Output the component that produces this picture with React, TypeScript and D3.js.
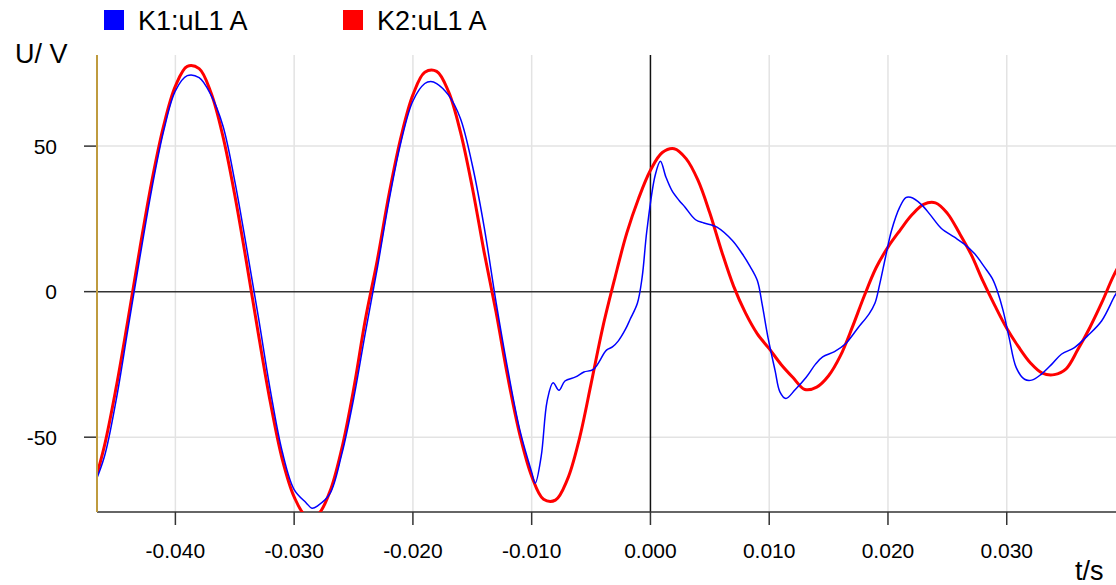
import React from "react";
import * as d3 from "d3";

// K2 (red) sampled every 1 ms from -0.047 s
const RED_T0 = -0.047;
const RED_DT = 0.001;
const redVolt = [
  -68.3, -53.4, -33.2, -9.8, 14.6, 37.6, 56.8, 70.6, 77.4, 76.6,
  68.3, 53.4, 33.2, 9.8, -14.8, -38.1, -57.6, -70.5, -77.0, -76.5,
  -68.8, -54.1, -33.7, -9.5, 10.8, 33.7, 53.2, 67.6, 75.4, 75.7,
  68.7, 54.9, 35.8, 13.5, -7.0, -29.6, -49.1, -63.4, -71.3, -71.6,
  -64.6, -50.8, -31.7, -12.0, 4.6, 20.0, 32.0, 41.7, 47.8, 49.1,
  45.7, 38.3, 27.0, 13.8, 1.9, -7.3, -14.5, -19.6, -25.0, -29.5,
  -33.6, -32.8, -28.9, -22.0, -12.2, -1.5, 8.2, 15.3, 21.0, 26.3,
  30.0, 30.5, 26.9, 20.2, 12.8, 3.6, -4.8, -12.6, -19.0, -24.5,
  -28.0, -28.5, -26.5, -19.8, -12.3, -3.8, 5.5, 13.0,
];

// K1 (blue), uneven samples
const blueTime = [
  -0.047, -0.046, -0.045, -0.044, -0.043, -0.042, -0.041, -0.04, -0.039, -0.038,
  -0.037, -0.036, -0.035, -0.034, -0.033, -0.032, -0.031, -0.03, -0.029, -0.0285,
  -0.028, -0.027, -0.026, -0.025, -0.024, -0.023, -0.022, -0.021, -0.02, -0.019,
  -0.0185, -0.018, -0.017, -0.016, -0.015, -0.014, -0.013, -0.012, -0.011, -0.01,
  -0.0097, -0.0092, -0.0087, -0.0082, -0.0077, -0.0072, -0.0063, -0.0056, -0.0048, -0.0037,
  -0.0032, -0.0027, -0.0021, -0.0017, -0.0011, -0.0007, -0.0003, 0.0004, 0.00084, 0.0013,
  0.0018, 0.0024, 0.0029, 0.0038, 0.0045, 0.0052, 0.0056, 0.0069, 0.0077, 0.0084,
  0.009, 0.0094, 0.0099, 0.0105, 0.0109, 0.0114, 0.0122, 0.0131, 0.0139, 0.0145,
  0.0155, 0.0164, 0.0175, 0.0184, 0.0189, 0.0193, 0.0198, 0.0203, 0.021, 0.0215,
  0.0219, 0.0228, 0.0236, 0.0245, 0.0256, 0.0264, 0.0273, 0.0281, 0.0288, 0.0292,
  0.0297, 0.0302, 0.0308, 0.0315, 0.0321, 0.0329, 0.0338, 0.0346, 0.0357, 0.0368,
  0.038, 0.0391, 0.0396,
];
const blueVolt = [
  -68, -57, -37.5, -13, 11.5, 35, 55, 69, 74.2, 73.5,
  67.5, 57, 38, 15, -9, -34, -55, -68, -72.5, -74.4,
  -73.5, -69.5, -56, -37, -14, 8, 31.5, 51.5, 65.5, 71.5,
  72.2, 71.5, 67.5, 59.5, 43.5, 22.2, -3.6, -27, -47.5, -62,
  -65.8, -56.6, -37.6, -31.3, -33.9, -30.7, -29.3, -27.6, -26.7, -20.1,
  -19, -16.9, -12.9, -9.4, -4, 4.9, 21, 40, 44.8, 39.4,
  34.8, 31.4, 29.1, 24.7, 23.6, 22.8, 22.2, 17.6, 13.2, 8.6,
  3.8, -4.2, -15.8, -27.2, -34.4, -36.7, -33.6, -29.5, -24.9, -22.4,
  -20.6, -18, -12.3, -7.7, -4, 2.5, 12, 21, 29.1, 32.3,
  32.4, 30, 26.2, 21.7, 18.7, 16.4, 13, 8.6, 4.4, 0.3,
  -6.6, -15.8, -26.1, -30.1, -30.4, -28.4, -24.9, -21.5, -19.2, -15.2,
  -10, -1.4, 2,
];

const xTicks = [-0.04, -0.03, -0.02, -0.01, 0, 0.01, 0.02, 0.03];
const yTicks = [-50, 0, 50];
const legendItems = [
  { label: "K1:uL1 A", color: "#0000ff" },
  { label: "K2:uL1 A", color: "#ff0000" },
];

const W = 1116;
const H = 585;
const left = 97;
const right = 1116;
const top = 55;
const bottom = 512;
const font = "'Liberation Sans', Arial, sans-serif";

export default function App() {
  const x = d3.scaleLinear().domain([-0.0466, 0.0392]).range([left, right]);
  const y = d3.scaleLinear().domain([-75.7, 81.3]).range([bottom, top]);

  const redPts: [number, number][] = redVolt.map((v, i) => [RED_T0 + i * RED_DT, v]);
  const bluePts: [number, number][] = blueTime.map((t, i) => [t, blueVolt[i]]);

  const line = d3
    .line<[number, number]>()
    .x((d) => x(d[0]))
    .y((d) => y(d[1]))
    .curve(d3.curveCatmullRom.alpha(0.5));

  return (
    <svg width={W} height={H} style={{ position: "absolute", left: 0, top: 0 }} fontFamily={font}>
      <defs>
        <clipPath id="plot">
          <rect x={left} y={top} width={right - left} height={bottom - top} />
        </clipPath>
      </defs>

      {/* grid */}
      {xTicks.filter((t) => t !== 0).map((t) => (
        <line key={"gx" + t} x1={x(t)} x2={x(t)} y1={top} y2={bottom} stroke="#e3e3e3" strokeWidth={1.5} />
      ))}
      {yTicks.filter((v) => v !== 0).map((v) => (
        <line key={"gy" + v} x1={left} x2={right} y1={y(v)} y2={y(v)} stroke="#e3e3e3" strokeWidth={1.5} />
      ))}

      {/* zero lines */}
      <line x1={left} x2={right} y1={y(0)} y2={y(0)} stroke="#333" strokeWidth={1.5} />
      <line x1={x(0)} x2={x(0)} y1={top} y2={bottom} stroke="#111" strokeWidth={1.5} />

      {/* axes */}
      <line x1={left} x2={right} y1={bottom} y2={bottom} stroke="#333" strokeWidth={1.5} />
      {xTicks.map((t) => (
        <g key={"xt" + t}>
          <line x1={x(t)} x2={x(t)} y1={bottom} y2={bottom + 13} stroke="#333" strokeWidth={1.5} />
          <text x={x(t)} y={558} textAnchor="middle" fontSize={21} fill="#000">
            {t.toFixed(3)}
          </text>
        </g>
      ))}
      {yTicks.map((v) => (
        <g key={"yt" + v}>
          <line x1={left - 13} x2={left} y1={y(v)} y2={y(v)} stroke="#333" strokeWidth={1.5} />
          <text x={57} y={y(v) + 7.5} textAnchor="end" fontSize={21} fill="#000">
            {v}
          </text>
        </g>
      ))}

      {/* series */}
      <g clipPath="url(#plot)">
        <path d={line(redPts) || ""} fill="none" stroke="#ff0000" strokeWidth={3} strokeLinejoin="round" />
        <path d={line(bluePts) || ""} fill="none" stroke="#0000ff" strokeWidth={1.5} strokeLinejoin="round" />
      </g>

      <line x1={left} x2={left} y1={top} y2={bottom} stroke="#bf9b3f" strokeWidth={2} />

      {/* titles */}
      <text x={15} y={63} fontSize={27} fill="#000">U/ V</text>
      <text x={1075} y={580} fontSize={27} fill="#000">t/s</text>

      {/* legend */}
      {legendItems.map((d, i) => (
        <g key={d.label} transform={`translate(${104 + i * 239},0)`}>
          <rect x={0} y={10} width={20} height={20} fill={d.color} />
          <text x={34} y={30} fontSize={27} fill="#000">{d.label}</text>
        </g>
      ))}
    </svg>
  );
}
